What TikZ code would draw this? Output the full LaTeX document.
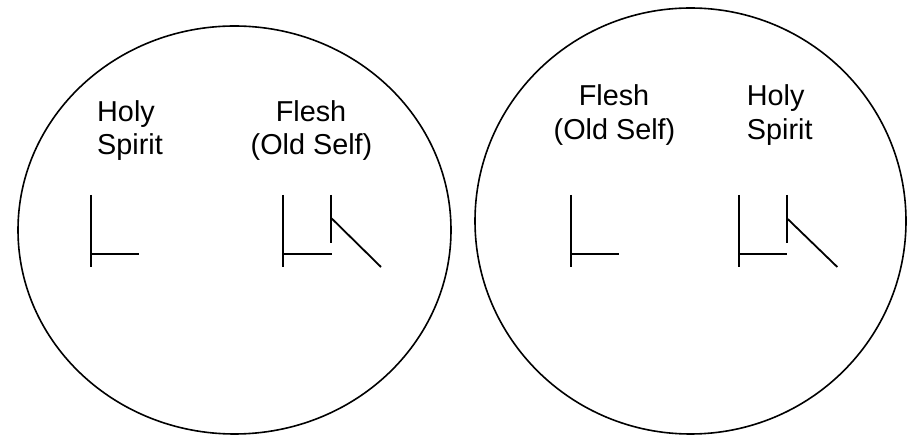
\documentclass[tikz,border=0pt]{standalone}
\usepackage{fontspec}
\setmainfont{Liberation Sans}
\begin{document}
\begin{tikzpicture}[x=1pt,y=-1pt,
  outline/.style={line width=1.6pt, draw=black},
  stroke/.style={line width=1.8pt, line cap=butt},
  lbl/.style={inner sep=0pt, font=\fontsize{28.8}{33.3}\selectfont}]
\useasboundingbox (0,0) rectangle (916,435);
% circles
\draw[outline] (234.5,230) ellipse [x radius=216.5, y radius=204];
\draw[outline] (690.5,221) ellipse [x radius=215.5, y radius=213];

% left circle texts
\node[lbl, anchor=base west] (l-holy) at (97,121.7) {Holy};
\node[lbl, anchor=base west] (l-spirit) at (97,155) {Spirit};
\node[lbl, anchor=base] (l-flesh) at (311,121.7) {Flesh};
\node[lbl, anchor=base] (l-old) at (311.5,155) {(Old Self)};

% right circle texts
\node[lbl, anchor=base] (r-flesh) at (614,106) {Flesh};
\node[lbl, anchor=base] (r-old) at (614.5,139.3) {(Old Self)};
\node[lbl, anchor=base west] (r-holy) at (746.7,106) {Holy};
\node[lbl, anchor=base west] (r-spirit) at (746.7,139.3) {Spirit};

% left circle: Holy Spirit symbol
\draw[stroke] (91,195) -- (91,267);
\draw[stroke] (91,254) -- (139,254);
% left circle: Flesh symbol
\draw[stroke] (283,195) -- (283,267);
\draw[stroke] (283,254) -- (332,254);
\draw[stroke] (331,195) -- (331,243.3);
\draw[stroke] (331.5,218.3) -- (381,267);

% right circle: Flesh symbol
\draw[stroke] (571,195) -- (571,267);
\draw[stroke] (571,254) -- (619.3,254);
% right circle: Holy Spirit symbol
\draw[stroke] (739,195) -- (739,267);
\draw[stroke] (739,254) -- (787.3,254);
\draw[stroke] (786.7,195) -- (786.7,243);
\draw[stroke] (787.7,219) -- (837.3,267);
\end{tikzpicture}
\end{document}
